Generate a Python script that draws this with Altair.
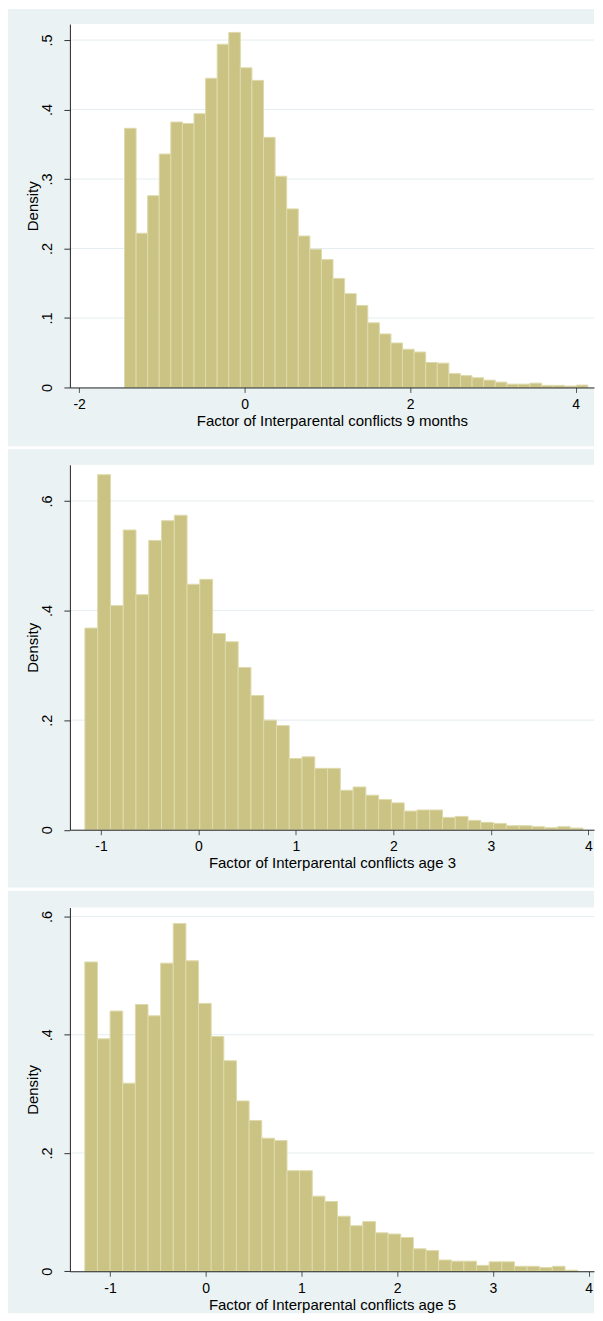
import altair as alt
import pandas as pd

# ---------------- data ----------------
titles = [
    "Factor of Interparental conflicts 9 months",
    "Factor of Interparental conflicts age 3",
    "Factor of Interparental conflicts age 5",
]

p1_start, p1_width = -1.452, 0.140
p1_density = [0.373, 0.222, 0.276, 0.336, 0.382, 0.380, 0.394, 0.445, 0.494, 0.511,
              0.460, 0.442, 0.360, 0.304, 0.257, 0.218, 0.199, 0.184, 0.157, 0.135,
              0.118, 0.093, 0.077, 0.064, 0.055, 0.051, 0.036, 0.035, 0.020, 0.017,
              0.014, 0.0105, 0.0077, 0.0048, 0.0048, 0.0062, 0.003, 0.003, 0.002, 0.0034]

p2_start, p2_width = -1.165, 0.131
p2_density = [0.368, 0.648, 0.409, 0.547, 0.429, 0.528, 0.564, 0.574, 0.448, 0.457,
              0.358, 0.343, 0.296, 0.245, 0.200, 0.190, 0.130, 0.133, 0.112, 0.112,
              0.072, 0.078, 0.063, 0.055, 0.049, 0.034, 0.036, 0.036, 0.0225, 0.0243,
              0.017, 0.0134, 0.0115, 0.0073, 0.0073, 0.0055, 0.0036, 0.0055, 0.003]

p3_start, p3_width = -1.263, 0.132
p3_density = [0.523, 0.393, 0.440, 0.318, 0.451, 0.432, 0.521, 0.588, 0.525, 0.453,
              0.397, 0.356, 0.288, 0.255, 0.225, 0.221, 0.170, 0.170, 0.127, 0.118,
              0.093, 0.077, 0.084, 0.065, 0.063, 0.057, 0.038, 0.035, 0.019, 0.017,
              0.017, 0.010, 0.016, 0.016, 0.0084, 0.0084, 0.0062, 0.0084, 0.0017]

x_ticks = [[-2, 0, 2, 4], [-1, 0, 1, 2, 3, 4], [-1, 0, 1, 2, 3, 4]]
y_ticks = [[0, 0.1, 0.2, 0.3, 0.4, 0.5], [0, 0.2, 0.4, 0.6], [0, 0.2, 0.4, 0.6]]
x_domains = [[-2.112, 4.222], [-1.319, 4.057], [-1.419, 4.056]]
y_domains = [[0, 0.523], [0, 0.666], [0, 0.615]]

# ---------------- style / layout ----------------
BG = "#EAF2F3"
BAR = "#CBC383"
BAR_EDGE = "#DEDAAC"
GRID = "#E4EDEF"
FONT = "Liberation Sans"
W = 525
heights = [364, 365.5, 364.3]
bg_top = [-15, -15.5, -16.7]
bg_bottom = [423, 423.5, 406.3]


def panel(i, start, width, dens):
    H = heights[i]
    df = pd.DataFrame({
        "x0": [start + k * width for k in range(len(dens))],
        "x1": [start + (k + 1) * width for k in range(len(dens))],
        "density": dens,
    })
    xs = alt.Scale(domain=x_domains[i], nice=False, zero=False)
    ys = alt.Scale(domain=y_domains[i], nice=False, zero=False)
    y_axis = alt.Axis(values=y_ticks[i], grid=False, zindex=1,
                      labelExpr="datum.value == 0 ? '0' : '.' + round(datum.value * 10)",
                      tickSize=6, tickColor="#333", domainColor="#222",
                      labelFont=FONT, labelFontSize=14.5, labelColor="#000",
                      labelAngle=270, labelAlign="center",
                      labelBaseline="alphabetic", labelPadding=12,
                      titleFont=FONT, titleFontSize=15, titleFontWeight="normal",
                      titleColor="#000", titleAngle=270, titleX=-32.7,
                      titleY=H / 2, titleAlign="center",
                      titleBaseline="alphabetic",
                      labelOverlap=False, labelFlush=False)
    x_axis = alt.Axis(values=x_ticks[i], grid=False, zindex=1,
                      labelExpr="'' + datum.value",
                      tickSize=5, tickColor="#555", domainColor="#222",
                      labelFont=FONT, labelFontSize=14, labelColor="#000",
                      labelBaseline="alphabetic", labelPadding=16,
                      labelAngle=0, labelAlign="center",
                      titleFont=FONT, titleFontSize=15, titleFontWeight="normal",
                      titleColor="#000", titleX=W / 2, titleY=38,
                      titleAlign="center", titleBaseline="alphabetic",
                      labelOverlap=False, labelFlush=False)
    one = alt.Chart(pd.DataFrame({"k": [0]}))

    bg = one.mark_rect(color=BG).encode(
        x=alt.value(-62), x2=alt.value(W),
        y=alt.value(bg_top[i]), y2=alt.value(bg_bottom[i]))
    plot_bg = one.mark_rect(color="white").encode(
        x=alt.value(0), x2=alt.value(W), y=alt.value(0), y2=alt.value(H))

    grid = alt.Chart(pd.DataFrame({"density": [t for t in y_ticks[i] if t != 0]})).mark_rule(
        color=GRID, strokeWidth=1).encode(
        y=alt.Y("density:Q", scale=ys, title="Density", axis=y_axis))

    bars = alt.Chart(df).mark_rect(fill=BAR, stroke=BAR_EDGE, strokeWidth=1).encode(
        x=alt.X("x0:Q", scale=xs, title=titles[i], axis=x_axis),
        x2="x1:Q",
        y=alt.Y("density:Q", scale=ys, title="Density", axis=y_axis),
        y2=alt.datum(0),
    )
    return alt.layer(bg, plot_bg, grid, bars).properties(width=W, height=H)


chart = alt.vconcat(
    panel(0, p1_start, p1_width, p1_density),
    panel(1, p2_start, p2_width, p2_density),
    panel(2, p3_start, p3_width, p3_density),
    spacing=2.5,
).properties(padding=0, background="white").configure_view(stroke=None)

chart.save("out.html", embed_options={"renderer": "svg", "actions": False})
